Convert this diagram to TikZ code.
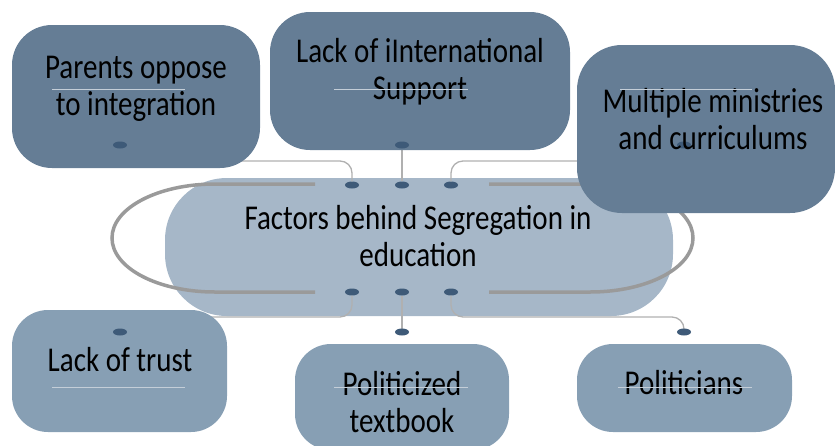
\documentclass[tikz,border=0pt]{standalone}
\usepackage{fontspec}
\setmainfont{Carlito}
\usetikzlibrary{shapes.geometric}
\usetikzlibrary{calc}
\definecolor{boxdark}{RGB}{101,125,149}
\definecolor{boxlight}{RGB}{135,159,180}
\definecolor{hubblue}{RGB}{166,183,200}
\definecolor{dotblue}{RGB}{62,90,120}
\definecolor{linkgray}{RGB}{176,176,176}
\definecolor{loopgray}{RGB}{154,154,154}
\definecolor{sepline}{RGB}{196,206,216}
\tikzstyle{darkbox}=[fill=boxdark,rounded corners=40pt]
\tikzstyle{lightbox}=[fill=boxlight,rounded corners=36pt]
\tikzstyle{dot}=[ellipse,fill=dotblue,minimum width=14pt,minimum height=7pt,inner sep=0pt]
\tikzstyle{link}=[draw=linkgray,line width=1.3pt,rounded corners=12pt]
\tikzstyle{loopline}=[draw=loopgray,line width=3.5pt]
\tikzstyle{sepline}=[draw=sepline,line width=0.9pt]
\tikzstyle{label}=[font=\fontsize{29}{31}\selectfont,align=center,text=black,transform shape,yscale=1.2]

\begin{document}
\begin{tikzpicture}[x=1pt,y=-1pt]
    \useasboundingbox (0,0) rectangle (835,445);
    
    % hub
    \fill[hubblue,rounded corners=62pt] (165,178) rectangle (673,316);
    \draw[loopline] (315,184) -- (215,184) .. controls (158,184) and (112,208) .. (112,238)
        .. controls (112,268) and (158,292) .. (215,292) -- (315,292);
    \draw[loopline] (489,184) -- (590,184) .. controls (647,184) and (693,208) .. (693,238)
        .. controls (693,268) and (647,292) .. (590,292) -- (489,292);
    \node[label] (hub) at (418,236) {Factors behind Segregation in\\education};
    
    \node[dot] (t1) at (352,185) {};
    \node[dot] (t2) at (402,185) {};
    \node[dot] (t3) at (451,185) {};
    \node[dot] (b1) at (352,292) {};
    \node[dot] (b2) at (402,292) {};
    \node[dot] (b3) at (451,292) {};
    
    % boxes (centres) and their dots
    \coordinate (p1) at (136,96);
    \coordinate (p2) at (420,81);
    \coordinate (p3) at (706,129);
    \coordinate (q1) at (120,371);
    \coordinate (q2) at (402,397);
    \coordinate (q3) at (684,388);
    \coordinate (p2d) at (402,145);
    \coordinate (q2d) at (402,332);
    \coordinate (q3d) at (684,332);
    
    % connectors
    \draw[link] (t1) |- ($(p1)+(0,65)$);
    \draw[link] (t2) -- (p2d);
    \draw[link] (t3) |- ($(p3)+(0,32)$);
    \draw[link] (b1) |- ($(q1)+(0,-54)$);
    \draw[link] (b2) -- (q2d);
    \draw[link] (b3) |- ($(q3d)+(0,-15)$) -- (q3d);
    
    \fill[darkbox] ($(p1)+(-124,-71)$) rectangle ($(p1)+(124,72)$);
    \fill[darkbox] ($(p2)+(-150,-69)$) rectangle ($(p2)+(150,69)$);
    \fill[darkbox,rounded corners=45pt] ($(p3)+(-129,-84)$) rectangle ($(p3)+(129,84)$);
    \fill[lightbox] ($(q1)+(-108,-61)$) rectangle ($(q1)+(107,61)$);
    \fill[lightbox] ($(q2)+(-107,-53)$) rectangle ($(q2)+(107,53)$);
    \fill[lightbox] ($(q3)+(-107,-44)$) rectangle ($(q3)+(108,44)$);
    
    \node[dot] at (120,145) {};
    \node[dot] at (p2d) {};
    \node[dot] at (684,145) {};
    \node[dot] at (120,332) {};
    \node[dot] at (q2d) {};
    \node[dot] at (q3d) {};
    
    \node[label] (p1t) at (136,89) {Parents oppose\\to integration};
    \node[label] (p2t) at (420,72) {Lack of iInternational\\Support};
    \node[label] (p3t) at (713,119) {Multiple ministries\\and curriculums};
    \node[label] (q1t) at (120,360) {Lack of trust};
    \node[label] (q2t) at (402,402) {Politicized\\textbook};
    \node[label] (q3t) at (684,383) {Politicians};
    
    \draw[sepline] (52,89) -- (185,89);
    \draw[sepline] (334,89) -- (468,89);
    \draw[sepline] (620,89) -- (752,89);
    \draw[sepline] (52,387) -- (185,387);
    \draw[sepline] (334,387) -- (468,387);
    \draw[sepline] (618,387) -- (752,387);
\end{tikzpicture}
\end{document}
